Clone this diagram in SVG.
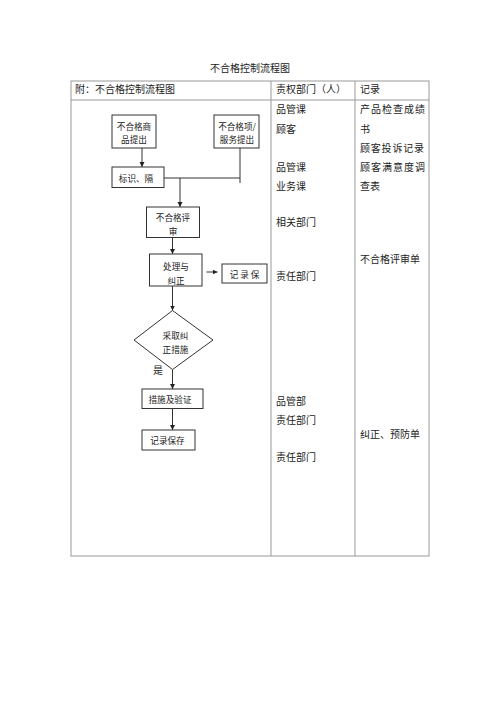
<svg xmlns="http://www.w3.org/2000/svg" width="500" height="707" viewBox="0 0 500 707">
<style>
text{font-family:"Noto Sans CJK SC","Liberation Serif",serif;fill:#222;dominant-baseline:central}
.t10{font-size:10px}
.t9{font-size:8.6px;text-anchor:middle}
.tbl{fill:none;stroke:#999;stroke-width:1}
.box{fill:#fff;stroke:#333;stroke-width:1}
.con{fill:none;stroke:#333;stroke-width:1}
</style>
<defs>
<marker id="ah" markerUnits="userSpaceOnUse" markerWidth="6" markerHeight="6" refX="5" refY="2.5" orient="auto">
<path d="M0,0 L5,2.5 L0,5 z" fill="#222"/>
</marker>
</defs>
<rect width="500" height="707" fill="#fff"/>
<text class="t10" x="250" y="67" text-anchor="middle">不合格控制流程图</text>
<g id="table">
<rect class="tbl" x="71" y="81" width="358" height="475"/>
<line class="tbl" x1="71" y1="100" x2="429" y2="100"/>
<line class="tbl" x1="271" y1="81" x2="271" y2="556"/>
<line class="tbl" x1="355" y1="81" x2="355" y2="556"/>
<text class="t10" x="75" y="88">附：不合格控制流程图</text>
<text class="t10" x="276" y="88">责权部门（人）</text>
<text class="t10" x="360" y="88">记录</text>
</g>
<g id="dept">
<text class="t10" x="276" y="108">品管课</text>
<text class="t10" x="276" y="128">顾客</text>
<text class="t10" x="276" y="166.5">品管课</text>
<text class="t10" x="276" y="185">业务课</text>
<text class="t10" x="276" y="221.5">相关部门</text>
<text class="t10" x="276" y="275">责任部门</text>
<text class="t10" x="276" y="400">品管部</text>
<text class="t10" x="276" y="419.5">责任部门</text>
<text class="t10" x="276" y="456">责任部门</text>
</g>
<g id="records">
<text class="t10" x="360" y="108" textLength="65" lengthAdjust="spacing">产品检查成绩</text>
<text class="t10" x="360" y="128">书</text>
<text class="t10" x="360" y="147.5" textLength="64" lengthAdjust="spacing">顾客投诉记录</text>
<text class="t10" x="360" y="166.5" textLength="65" lengthAdjust="spacing">顾客满意度调</text>
<text class="t10" x="360" y="185">查表</text>
<text class="t10" x="360" y="258.5">不合格评审单</text>
<text class="t10" x="360" y="433.5">纠正、预防单</text>
</g>
<g id="connectors">
<line class="con" x1="142" y1="148" x2="142" y2="167" marker-end="url(#ah)"/>
<line class="con" x1="240" y1="148" x2="240" y2="183"/>
<line class="con" x1="164" y1="178" x2="240" y2="178"/>
<line class="con" x1="180" y1="178" x2="180" y2="207" marker-end="url(#ah)"/>
<line class="con" x1="172.5" y1="238" x2="172.5" y2="254" marker-end="url(#ah)"/>
<line class="con" x1="206.5" y1="272" x2="217.5" y2="272" marker-end="url(#ah)"/>
<line class="con" x1="172.5" y1="286" x2="172.5" y2="310.5" marker-end="url(#ah)"/>
<line class="con" x1="172.5" y1="369.5" x2="172.5" y2="389" marker-end="url(#ah)"/>
<line class="con" x1="172.5" y1="408" x2="172.5" y2="430" marker-end="url(#ah)"/>
</g>
<g id="n1">
<rect class="box" x="112" y="115" width="44" height="33"/>
<text class="t9" x="134" y="126">不合格商</text>
<text class="t9" x="134" y="139">品提出</text>
</g>
<g id="n2">
<rect class="box" x="214" y="115" width="45" height="33"/>
<text class="t9" x="237" y="126">不合格项/</text>
<text class="t9" x="237" y="139">服务提出</text>
</g>
<g id="n3">
<rect class="box" x="112" y="167" width="52" height="20.5"/>
<text class="t9" x="136" y="177.5">标识、隔</text>
</g>
<g id="n4">
<rect class="box" x="146.5" y="207" width="53" height="30.5"/>
<text class="t9" x="173" y="217">不合格评</text>
<text class="t9" x="173" y="230.5">审</text>
</g>
<g id="n5">
<rect class="box" x="149.5" y="254" width="52.5" height="32"/>
<text class="t9" x="176" y="265.5">处理与</text>
<text class="t9" x="176" y="279.5">纠正</text>
</g>
<g id="n6">
<rect class="box" x="222" y="264" width="45" height="19"/>
<text class="t9" x="244.5" y="273.5">记 录 保</text>
</g>
<g id="n7">
<path class="box" d="M172.5,310.5 L213,340 L172.5,369.5 L134,340 Z"/>
<text class="t9" x="175.5" y="334.5">采取纠</text>
<text class="t9" x="175.5" y="348.5">正措施</text>
</g>
<text class="t10" x="158" y="369" text-anchor="middle">是</text>
<g id="n8">
<rect class="box" x="142" y="389" width="61" height="19.5"/>
<text class="t9" x="170" y="399">措施及验证</text>
</g>
<g id="n9">
<rect class="box" x="142" y="430" width="53" height="20"/>
<text class="t9" x="167.5" y="440">记录保存</text>
</g>
</svg>
